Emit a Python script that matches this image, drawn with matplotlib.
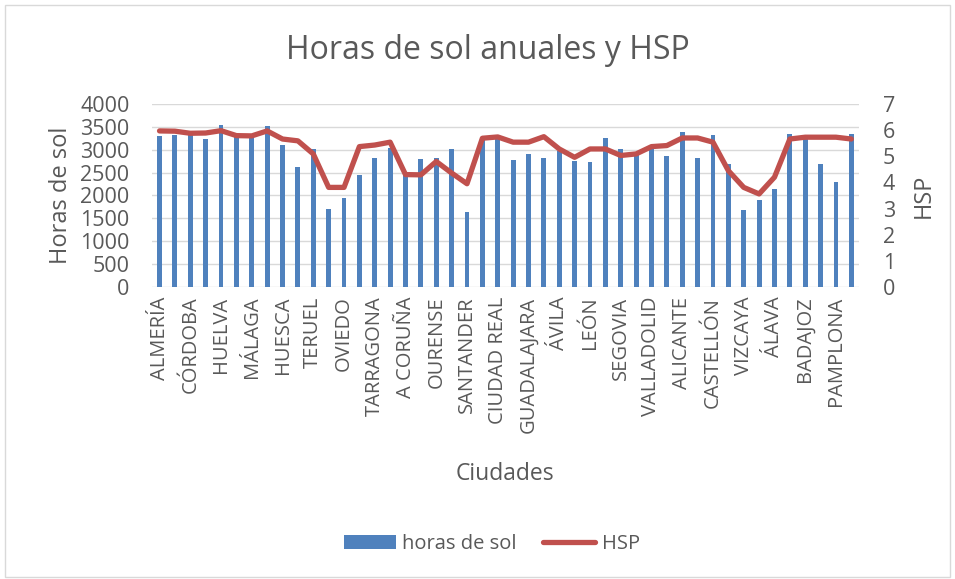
import numpy as np
import matplotlib
matplotlib.use('Agg')
import matplotlib.pyplot as plt
from matplotlib.patches import Rectangle, Patch
from matplotlib.lines import Line2D

# city labels shown on the axis (Excel shows every second category)
ciudades = ['ALMERÍA', 'CÓRDOBA', 'HUELVA', 'MÁLAGA', 'HUESCA', 'TERUEL', 'OVIEDO',
            'TARRAGONA', 'A CORUÑA', 'OURENSE', 'SANTANDER', 'CIUDAD REAL',
            'GUADALAJARA', 'ÁVILA', 'LEÓN', 'SEGOVIA', 'VALLADOLID', 'ALICANTE',
            'CASTELLÓN', 'VIZCAYA', 'ÁLAVA', 'BADAJOZ', 'PAMPLONA']

# annual sunshine hours, one per bar
horas_sol = [3300, 3316, 3316, 3228, 3530, 3287, 3250, 3515, 3096, 2618,
             3007, 1713, 1956, 2449, 2816, 3029, 2500, 2800, 2810, 3015,
             1640, 3250, 3240, 2780, 2897, 2816, 2970, 2750, 2728, 3265,
             3015, 2900, 3080, 2853, 3390, 2809, 3316, 2699, 1691, 1904,
             2147, 3350, 3300, 2684, 2287, 3345]

# peak sun hours
hsp = [5.97, 5.96, 5.88, 5.89, 5.98, 5.79, 5.78, 5.97, 5.66, 5.59,
       5.09, 3.81, 3.81, 5.37, 5.43, 5.54, 4.30, 4.29, 4.80, 4.36,
       3.95, 5.69, 5.74, 5.54, 5.54, 5.75, 5.28, 4.96, 5.28, 5.28,
       5.03, 5.09, 5.37, 5.41, 5.70, 5.70, 5.54, 4.45, 3.81, 3.56,
       4.20, 5.66, 5.73, 5.73, 5.73, 5.66]

blue = '#4F81BD'
red = '#C0504D'
gray = '#595959'
font = 'Open Sans'

plt.rcParams['font.family'] = [font, 'DejaVu Sans']

fig = plt.figure(figsize=(9.55, 5.79), dpi=100)
ax = fig.add_axes([0.159, 0.5043, 0.7405, 0.3161])
ax2 = ax.twinx()

x = np.arange(len(horas_sol))
ax.bar(x, horas_sol, width=0.32, color=blue, zorder=2)
ax2.plot(x, hsp, color=red, linewidth=3.8, solid_capstyle='round',
         solid_joinstyle='round', zorder=3)

ax.set_xlim(-0.5, len(horas_sol) - 0.5)
ax.set_ylim(0, 4000)
ax.set_yticks(np.arange(0, 4001, 500))
ax2.set_ylim(0, 7)
ax2.set_yticks(np.arange(0, 8, 1))

ax.set_xticks(x[::2])
ax.set_xticklabels(ciudades, rotation=90, fontsize=14.5, color=gray)

ax.grid(axis='y', color='#D9D9D9', linewidth=1, zorder=0)
ax.set_axisbelow(True)
for a in (ax, ax2):
    for s in a.spines.values():
        s.set_visible(False)
    a.tick_params(length=0, labelsize=15.5, labelcolor=gray)
ax.tick_params(axis='y', pad=16)
ax2.tick_params(axis='y', pad=17)
ax.tick_params(axis='x', pad=7, labelsize=14.5)

ax.set_ylabel('Horas de sol', fontsize=17, color=gray, labelpad=5)
ax2.set_ylabel('HSP', fontsize=17, color=gray, labelpad=12)
ax.set_xlabel('Ciudades', fontsize=16.5, color=gray, labelpad=21)

fig.text(0.511, 0.912, 'Horas de sol anuales y HSP', ha='center', va='center',
         fontsize=23, color=gray)

handles = [Patch(facecolor=blue, edgecolor='none'),
           Line2D([0], [0], color=red, linewidth=3.8, solid_capstyle='round')]
fig.legend(handles, ['horas de sol', 'HSP'], loc='center', ncol=2,
           bbox_to_anchor=(0.515, 0.06), frameon=False, fontsize=14.5,
           labelcolor=gray, handlelength=2.6, handleheight=0.65,
           columnspacing=1.3, handletextpad=0.3)

# chart border
fig.patches.append(Rectangle((0.005, 0.004), 0.99, 0.987, transform=fig.transFigure,
                             fill=False, edgecolor='#D9D9D9', linewidth=1))

fig.savefig('out.png', dpi=100)
